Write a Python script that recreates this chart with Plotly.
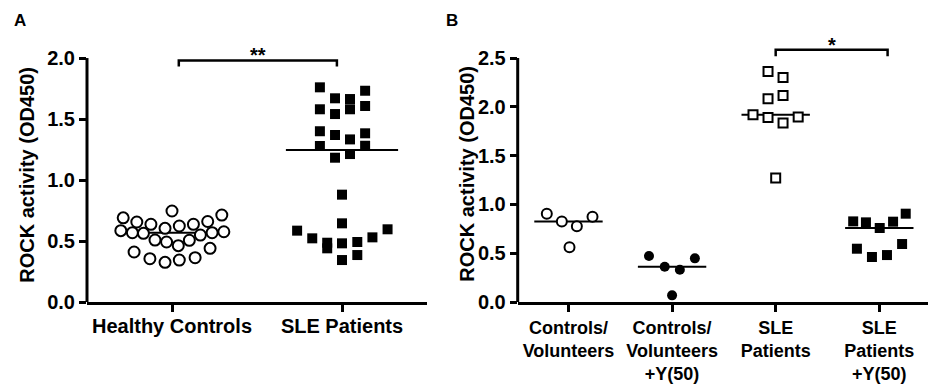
import numpy as np
import plotly.graph_objects as go

# ---------------- data ----------------
cats_a = ["Healthy Controls", "SLE Patients"]
hc_y = [0.69, 0.656, 0.637, 0.604, 0.623, 0.637, 0.66, 0.713, 0.746, 0.585, 0.568, 0.563, 0.508,
        0.492, 0.462, 0.506, 0.549, 0.568, 0.576, 0.41, 0.355, 0.325, 0.344, 0.363, 0.44]
hc_dx = [-0.287, -0.207, -0.124, -0.041, 0.043, 0.126, 0.21, 0.293, 0, -0.301, -0.233, -0.168, -0.1,
         -0.032, 0.037, 0.102, 0.167, 0.236, 0.305, -0.223, -0.13, -0.041, 0.043, 0.136, 0.224]
sle_y = [1.76, 1.67, 1.664, 1.732, 1.58, 1.541, 1.58, 1.607, 1.40, 1.369, 1.333, 1.383, 1.279, 1.183,
         1.213, 1.281, 0.88, 0.645, 0.585, 0.522, 0.486, 0.44, 0.481, 0.492, 0.53, 0.596, 0.344, 0.385]
sle_dx = [-0.13, -0.041, 0.047, 0.136, -0.13, -0.041, 0.047, 0.136, -0.13, -0.041, 0.047, 0.136, -0.13,
          -0.041, 0.047, 0.136, 0, 0, -0.264, -0.175, -0.087, -0.087, 0, 0.09, 0.179, 0.268, 0, 0.09]

cats_b = ["Controls/<br>Volunteers", "Controls/<br>Volunteers<br>+Y(50)", "SLE<br>Patients",
          "SLE<br>Patients<br>+Y(50)"]
cv_y = [0.905, 0.826, 0.775, 0.874, 0.56]
cv_dx = [-0.209, -0.064, 0.081, 0.232, 0.01]
cvy_y = [0.471, 0.362, 0.331, 0.447, 0.068]
cvy_dx = [-0.223, -0.071, 0.075, 0.22, 0]
slb_y = [2.363, 2.30, 2.083, 2.117, 1.919, 1.891, 1.834, 1.895, 1.27]
slb_dx = [-0.074, 0.071, -0.074, 0.071, -0.219, -0.074, 0.071, 0.217, 0]
sly_y = [0.826, 0.816, 0.758, 0.823, 0.905, 0.546, 0.461, 0.481, 0.594]
sly_dx = [-0.252, -0.129, 0.004, 0.133, 0.255, -0.216, -0.071, 0.074, 0.22]

ticks_a = [0, 0.5, 1.0, 1.5, 2.0]
ticks_b = [0, 0.5, 1.0, 1.5, 2.0, 2.5]
sig_a = "**"
sig_b = "*"

# ---------------- figure ----------------
FONT = "Liberation Sans, Arial, sans-serif"
fig = go.Figure()

def open_marker(sym, size):
    return dict(symbol=sym, size=size, color="white", line=dict(color="black", width=2))

def fill_marker(sym, size):
    return dict(symbol=sym, size=size, color="black", line=dict(color="black", width=0))

groups = [
    ("x", "y", 0, hc_y, hc_dx, open_marker("circle", 11)),
    ("x", "y", 1, sle_y, sle_dx, fill_marker("square", 10)),
    ("x2", "y2", 0, cv_y, cv_dx, open_marker("circle", 10)),
    ("x2", "y2", 1, cvy_y, cvy_dx, fill_marker("circle", 10)),
    ("x2", "y2", 2, slb_y, slb_dx, open_marker("square", 9)),
    ("x2", "y2", 3, sly_y, sly_dx, fill_marker("square", 10)),
]
for xa, ya, pos, ys, dxs, mk in groups:
    med = float(np.median(ys))
    fig.add_trace(go.Scatter(x=[pos - 0.33, pos + 0.33], y=[med, med], mode="lines",
                             line=dict(color="black", width=2), xaxis=xa, yaxis=ya,
                             showlegend=False, hoverinfo="skip"))
    fig.add_trace(go.Scatter(x=[pos + d for d in dxs], y=ys, mode="markers", marker=mk,
                             xaxis=xa, yaxis=ya, showlegend=False, cliponaxis=False))

# significance brackets
fig.add_trace(go.Scatter(x=[0.04, 0.04, 0.97, 0.97], y=[1.93, 1.98, 1.98, 1.93], mode="lines",
                         line=dict(color="black", width=2.5), xaxis="x", yaxis="y", showlegend=False))
fig.add_trace(go.Scatter(x=[2.0, 2.0, 3.08, 3.08], y=[2.517, 2.585, 2.585, 2.517], mode="lines",
                         line=dict(color="black", width=2.5), xaxis="x2", yaxis="y2", showlegend=False))

tickfont = dict(family=FONT, size=20, color="black", weight="bold")
tickfont_b = dict(family=FONT, size=18, color="black", weight="bold")
common_x = dict(showline=True, linewidth=3, linecolor="black", ticks="outside", ticklen=7,
                tickwidth=3, tickcolor="black", showgrid=False, zeroline=False,
                automargin=False, tickangle=0)
common_y = dict(showline=False, ticks="outside", ticklen=7, tickwidth=3, tickcolor="black",
                showgrid=False, zeroline=False, tickfont=tickfont, automargin=False)

fig.update_layout(
    width=928, height=391, margin=dict(l=0, r=0, t=30, b=89),
    paper_bgcolor="white", plot_bgcolor="white",
    xaxis=dict(domain=[87 / 928, 427 / 928], range=[-0.5, 1.5], tickvals=[0, 1], ticktext=cats_a,
               ticklabelstandoff=-3, tickfont=tickfont, **common_x),
    yaxis=dict(range=[0, 2.23], tickvals=ticks_a, ticktext=[f"{v:.1f}" for v in ticks_a], **common_y),
    xaxis2=dict(domain=[517.7 / 928, 1.0], range=[-0.49, 3.47], tickvals=[0, 1, 2, 3], ticktext=cats_b,
                anchor="y2", ticklabelstandoff=0, tickfont=tickfont_b, **common_x),
    yaxis2=dict(range=[0, 2.787], tickvals=ticks_b, ticktext=[f"{v:.1f}" for v in ticks_b],
                anchor="x2", **common_y),
)

# y-axis lines (only up to the top tick)
fig.add_shape(type="line", xref="x domain", yref="y", x0=0, x1=0, y0=0, y1=ticks_a[-1],
              line=dict(color="black", width=3))
fig.add_shape(type="line", xref="x2 domain", yref="y2", x0=0, x1=0, y0=0, y1=ticks_b[-1],
              line=dict(color="black", width=3))

# paper y coords are relative to the plot area (top 30 px, bottom 302 px)
def py(p):
    return (302 - p) / 272

titlefont = dict(family=FONT, size=20, color="black", weight="bold")
fig.add_annotation(text="ROCK activity (OD450)", textangle=-90, xref="paper", yref="paper",
                   x=26.7 / 928, y=py(175), xanchor="center", yanchor="middle",
                   showarrow=False, font=titlefont)
fig.add_annotation(text="ROCK activity (OD450)", textangle=-90, xref="paper", yref="paper",
                   x=466.7 / 928, y=py(174), xanchor="center", yanchor="middle",
                   showarrow=False, font=titlefont)

letterfont = dict(family=FONT, size=17, color="black", weight="bold")
fig.add_annotation(text="A", xref="paper", yref="paper", x=20 / 928, y=py(21),
                   xanchor="center", yanchor="middle", showarrow=False, font=letterfont)
fig.add_annotation(text="B", xref="paper", yref="paper", x=452 / 928, y=py(21),
                   xanchor="center", yanchor="middle", showarrow=False, font=letterfont)

starfont = dict(family=FONT, size=20, color="black", weight="bold")
fig.add_annotation(text=sig_a, xref="x", yref="y", x=0.505, y=1.98, yanchor="bottom",
                   showarrow=False, font=starfont, yshift=-8)
fig.add_annotation(text=sig_b, xref="x2", yref="y2", x=2.54, y=2.585, yanchor="bottom",
                   showarrow=False, font=starfont, yshift=-8)

fig.write_html("out.html", config={"displayModeBar": False},
               post_script="document.body.style.margin='0';")
